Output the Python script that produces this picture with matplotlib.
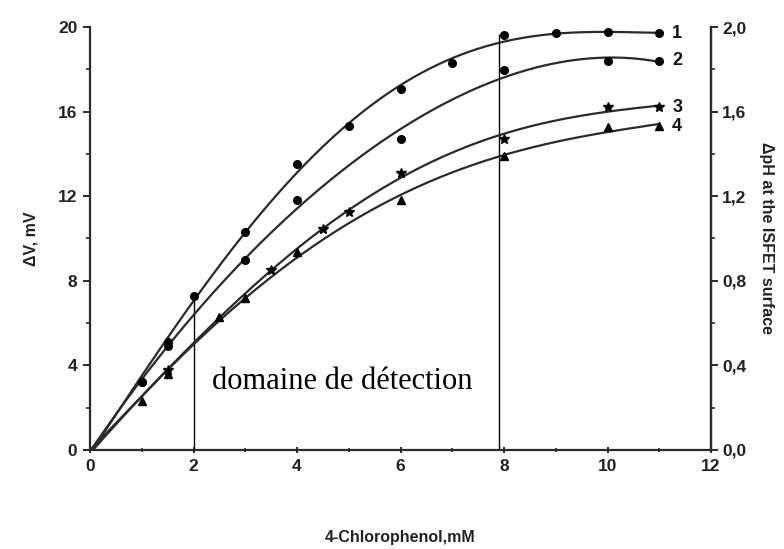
import numpy as np
import matplotlib
matplotlib.use("Agg")
import matplotlib.pyplot as plt
from matplotlib.ticker import MultipleLocator, FuncFormatter

plt.rcParams['font.family'] = ['Liberation Sans', 'DejaVu Sans']

# ---- data ----
x1 = [1, 1.5, 2, 3, 4, 5, 6, 7, 8, 9, 10, 11]
y1 = [3.2, 5.1, 7.3, 10.3, 13.5, 15.3, 17.05, 18.3, 19.6, 19.7, 19.75, 19.7]

x2 = [1, 1.5, 3, 4, 6, 8, 10, 11]
y2 = [3.2, 4.9, 9.0, 11.8, 14.7, 17.95, 18.4, 18.4]

x3 = [1.5, 3.5, 4.5, 5, 6, 8, 10, 11]
y3 = [3.8, 8.5, 10.45, 11.27, 13.1, 14.7, 16.2, 16.2]

x4 = [1, 1.5, 2.5, 3, 4, 6, 8, 10, 11]
y4 = [2.3, 3.6, 6.3, 7.2, 9.36, 11.8, 13.9, 15.25, 15.3]

series_names = ["1", "2", "3", "4"]
x_ticks = [0, 2, 4, 6, 8, 10, 12]
left_ticks = [0, 4, 8, 12, 16, 20]
right_ticks = [0.0, 0.4, 0.8, 1.2, 1.6, 2.0]
detect_lo, detect_hi = 2, 7.9
annotation = "domaine de détection"

series = [(x1, y1, 'o'), (x2, y2, 'o'), (x3, y3, '*'), (x4, y4, '^')]

W, H = 784, 549
fig = plt.figure(figsize=(W / 100, H / 100), dpi=100)
L, R, T, B = 90, 711, 27, 450
ax = fig.add_axes([L / W, 1 - B / H, (R - L) / W, (B - T) / H])

lc = '#2a2a2a'
for (xs, ys, m), name in zip(series, series_names):
    xa = np.array([0] + list(xs), float)
    ya = np.array([0] + list(ys), float)
    coef = np.polyfit(xa, ya, 4)
    xx = np.linspace(0, xa.max(), 300)
    ax.plot(xx, np.polyval(coef, xx), color=lc, lw=1.6, zorder=3)
    ms = 7.5 if m == '*' else 5.5
    ax.plot(xs, ys, linestyle='none', marker=m, color='black', ms=ms, zorder=4)
    ax.text(xs[-1] + 0.25, ys[-1], name, fontsize=13, fontweight='bold',
            va='center', ha='left', color='#111')

# detection domain lines
ax.plot([detect_lo, detect_lo], [0, y1[x1.index(detect_lo)]], color='black', lw=1.0, zorder=2)
ax.plot([detect_hi, detect_hi], [0, y1[x1.index(8)]], color='black', lw=1.0, zorder=2)
ax.text(2.35, 3.25, annotation, family=['Liberation Serif', 'DejaVu Serif'],
        fontsize=22, va='center', ha='left', color='black')

ax.set_xlim(0, 12)
ax.set_ylim(0, 20)
ax.set_xticks(x_ticks)
ax.set_yticks(left_ticks)
ax.xaxis.set_minor_locator(MultipleLocator(1))
ax.yaxis.set_minor_locator(MultipleLocator(2))
ax.spines['top'].set_visible(False)
for s in ['left', 'bottom', 'right']:
    ax.spines[s].set_linewidth(1.6)
    ax.spines[s].set_color(lc)
ax.tick_params(which='major', length=5, width=1.4, color=lc, labelsize=12.5, pad=4)
ax.tick_params(which='minor', length=3, width=1.2, color=lc)
ax.tick_params(axis='x', which='both', direction='inout')
for lab in ax.get_xticklabels() + ax.get_yticklabels():
    lab.set_fontweight('bold')
    lab.set_color('#222')

ax.set_xlabel("4-Chlorophenol,mM", fontsize=11.5, fontweight='bold', labelpad=40, color='#222')
ax.set_ylabel("ΔV, mV", fontsize=11.5, fontweight='bold', labelpad=14, color='#222')

ax2 = ax.twinx()
ax2.set_ylim(0, 2.0)
ax2.set_yticks(right_ticks)
ax2.yaxis.set_minor_locator(MultipleLocator(0.2))
ax2.yaxis.set_major_formatter(FuncFormatter(lambda v, p: f"{v:.1f}".replace('.', ',')))
ax2.spines['top'].set_visible(False)
ax2.spines['left'].set_visible(False)
ax2.spines['bottom'].set_visible(False)
ax2.spines['right'].set_linewidth(1.6)
ax2.spines['right'].set_color(lc)
ax2.tick_params(which='major', length=5, width=1.4, color=lc, labelsize=12.5, pad=3)
ax2.tick_params(which='minor', length=3, width=1.2, color=lc)
for lab in ax2.get_yticklabels():
    lab.set_fontweight('bold')
    lab.set_color('#222')
ax2.set_ylabel("ΔpH at the ISFET surface", fontsize=11.5, fontweight='bold',
               rotation=270, labelpad=20, color='#222')

fig.savefig("out.png", dpi=100)
